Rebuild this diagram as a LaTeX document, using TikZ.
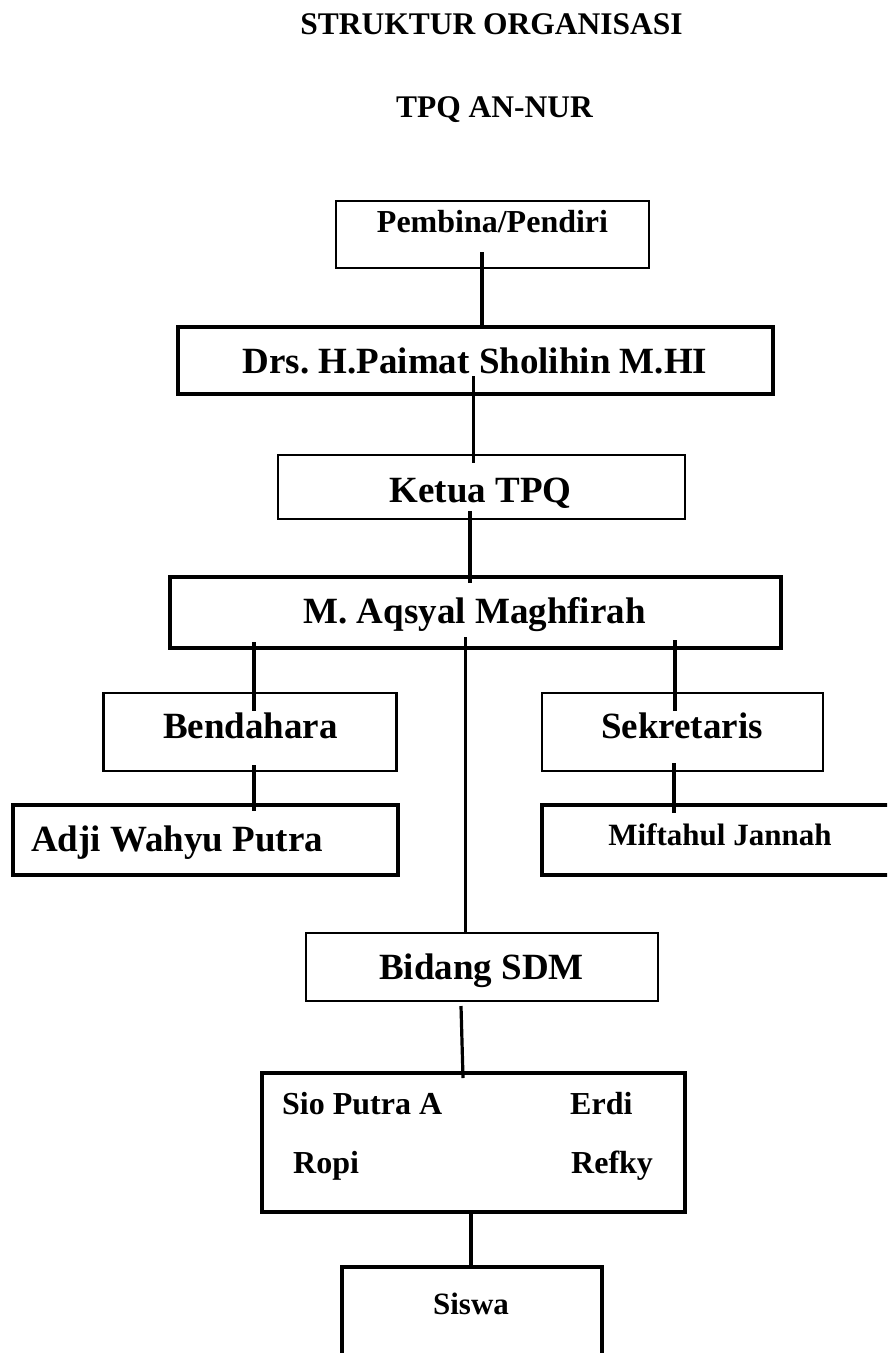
\documentclass[tikz,border=0pt]{standalone}
\usepackage{fontspec}
\setmainfont{Liberation Serif}
\frenchspacing
\begin{document}
\begin{tikzpicture}[x=1pt,y=-1pt,
  box/.style={draw, rectangle, inner sep=0pt, fill=none},
  thinbox/.style={box, line width=2.6pt},
  midbox/.style={box, line width=3.3pt},
  thickbox/.style={box, line width=4pt},
  conn/.style={line width=3.2pt},
  txtL/.style={anchor=base, inner sep=0pt, font=\fontsize{37}{44}\selectfont\bfseries},
  txtS/.style={anchor=base, inner sep=0pt, font=\fontsize{32}{38}\selectfont\bfseries},
  txtT/.style={anchor=base, inner sep=0pt, font=\fontsize{31.5}{38}\selectfont\bfseries},
  txtM/.style={anchor=base, inner sep=0pt, font=\fontsize{31}{38}\selectfont\bfseries}]
\useasboundingbox (0,0) rectangle (887,1353);
\clip (0,0) rectangle (887,1353);
\fill[white] (0,0) rectangle (887,1353);

% titles
\node[txtT] (t1) at (491.5,34) {STRUKTUR ORGANISASI};
\node[txtT] (t2) at (494.5,117) {TPQ AN-NUR};

% boxes
\node[thinbox, minimum width=313, minimum height=67] (pemb) at (492.5,234.5) {};
\node[thickbox, minimum width=595, minimum height=67] (drs) at (475.5,360.5) {};
\node[thinbox, minimum width=407, minimum height=64] (ketua) at (481.5,487) {};
\node[thickbox, minimum width=611, minimum height=71] (aqs) at (475.5,612.5) {};
\node[thinbox, minimum width=293, minimum height=78] (bend) at (250,732) {};
\node[thinbox, minimum width=281, minimum height=78] (sekr) at (682.5,732) {};
\node[thickbox, minimum width=385, minimum height=70] (adji) at (205.5,840) {};
\node[midbox, minimum width=350, minimum height=70] (mift) at (717,840) {};
\node[thinbox, minimum width=352, minimum height=68] (sdm) at (482,967) {};
\node[thickbox, minimum width=423, minimum height=139] (anggota) at (473.5,1142.5) {};
\node[midbox, minimum width=260, minimum height=123] (siswa) at (472,1328.5) {};

% texts
\node[txtS] (lpemb) at (492.5,232) {Pembina/Pendiri};
\node[txtL] (ldrs) at (475,373) {Drs. H.Paimat Sholihin M.HI};
\node[txtL] (lketua) at (480.5,502) {Ketua TPQ};
\node[txtL] (laqs) at (474.6,623) {M. Aqsyal Maghfirah};
\node[txtL] (lbend) at (250.5,738) {Bendahara};
\node[txtL] (lsekr) at (682,738) {Sekretaris};
\node[txtL, anchor=base west] (ladji) at (31,851) {Adji Wahyu Putra};
\node[txtM] (lmift) at (720,845) {Miftahul Jannah};
\node[txtL] (lsdm) at (481.5,979) {Bidang SDM};
\node[txtS, anchor=base west] (lsio) at (282,1114) {Sio Putra A};
\node[txtS, anchor=base west] (lerdi) at (570,1114) {Erdi};
\node[txtS, anchor=base west] (lropi) at (293,1173) {Ropi};
\node[txtS, anchor=base west] (lrefky) at (571,1173) {Refky};
\node[txtM] (lsiswa) at (471,1314) {Siswa};

% connectors
\coordinate (c1) at (482,252);
\draw[conn] (c1) -- (c1 |- drs.north);
\coordinate (c2a) at (473.5,376);
\coordinate (c2b) at (473.5,463);
\draw[conn] (c2a) -- (c2b);
\coordinate (c3a) at (470,511);
\coordinate (c3b) at (470,583);
\draw[conn] (c3a) -- (c3b);
\coordinate (c4a) at (254,642);
\coordinate (c4b) at (254,711);
\draw[conn] (c4a) -- (c4b);
\coordinate (c5a) at (675,640);
\coordinate (c5b) at (675,711);
\draw[conn] (c5a) -- (c5b);
\coordinate (c6) at (465.5,637);
\draw[conn] (c6) -- (c6 |- sdm.north);
\coordinate (c7a) at (254,765);
\coordinate (c7b) at (254,811);
\draw[conn] (c7a) -- (c7b);
\coordinate (c8a) at (674,763);
\coordinate (c8b) at (674,813);
\draw[conn] (c8a) -- (c8b);
\coordinate (c9a) at (461,1006);
\coordinate (c9b) at (463,1078);
\draw[conn] (c9a) -- (c9b);
\coordinate (c10) at (471,1212);
\draw[conn] (c10) -- (c10 |- siswa.north);
\end{tikzpicture}
\end{document}
